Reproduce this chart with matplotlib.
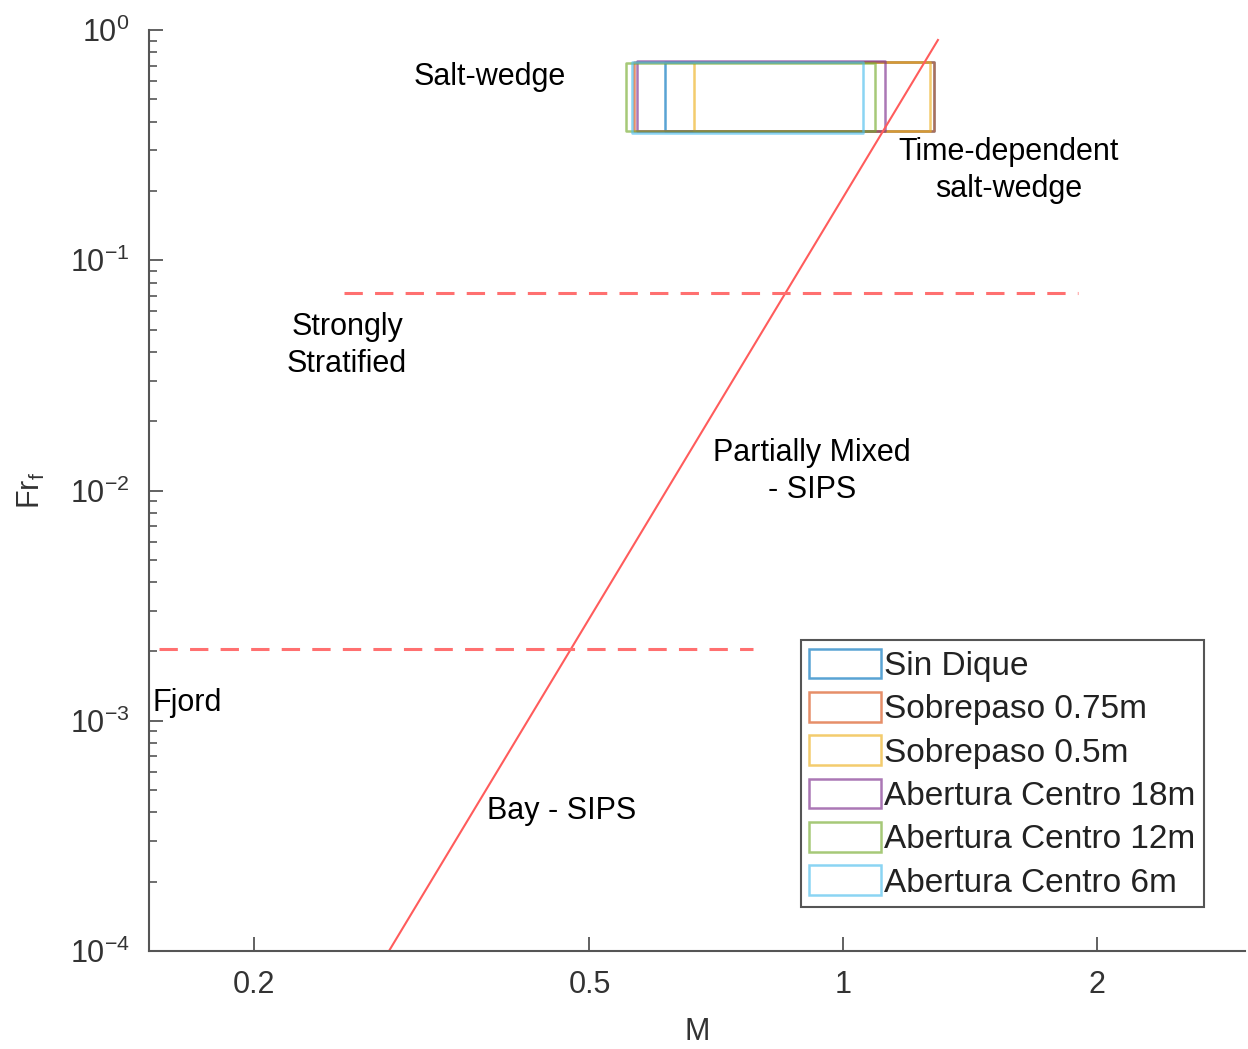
import numpy as np
import matplotlib
matplotlib.use('Agg')
import matplotlib.pyplot as plt
from matplotlib.patches import Rectangle
from matplotlib.ticker import LogLocator, FixedLocator, NullLocator, FixedFormatter

plt.rcParams['font.family'] = ['Liberation Sans', 'DejaVu Sans']
plt.rcParams['mathtext.fontset'] = 'custom'
plt.rcParams['mathtext.rm'] = 'Liberation Sans'
plt.rcParams['mathtext.it'] = 'Liberation Sans:italic'

# scenarios (boxes of M / Fr_f range)
labels = ['Sin Dique', 'Sobrepaso 0.75m', 'Sobrepaso 0.5m',
          'Abertura Centro 18m', 'Abertura Centro 12m', 'Abertura Centro 6m']
colors = ['#0072BD', '#D95319', '#EDB120', '#7E2F8E', '#77AC30', '#4DBEEE']
m_min = [0.615, 0.565, 0.666, 0.570, 0.552, 0.562]
m_max = [1.282, 1.282, 1.268, 1.121, 1.091, 1.056]
fr_min = [0.364, 0.364, 0.364, 0.364, 0.364, 0.356]
fr_max = [0.726, 0.726, 0.726, 0.730, 0.722, 0.726]

# mixing line and regime boundaries
line_m = [0.289, 1.296]
line_fr = [1e-4, 0.905]
upper_m = [0.2557, 1.898]
upper_fr = [0.0719, 0.0719]
lower_m = [0.1543, 0.782]
lower_fr = [0.00205, 0.00205]

fig = plt.figure(figsize=(12.48, 10.49), dpi=100)
ax = fig.add_axes([0.1194, 0.0934, 0.8782, 0.878])

ax.plot(line_m, line_fr, color='#ff5c5c', lw=1.5)
ax.plot(upper_m, upper_fr, color='#ff7070', lw=2.2, ls=(0, (6, 4)))
ax.plot(lower_m, lower_fr, color='#ff7070', lw=2.2, ls=(0, (6, 4)))

for i in range(len(labels)):
    r = Rectangle((m_min[i], fr_min[i]), m_max[i] - m_min[i], fr_max[i] - fr_min[i],
                  facecolor='none', edgecolor=colors[i], lw=1.8, alpha=0.65,
                  label=labels[i], joinstyle='round')
    ax.add_patch(r)

ax.set_xscale('log')
ax.set_yscale('log')
ax.set_xlim(0.15, 3)
ax.set_ylim(1e-4, 1)

ax.xaxis.set_major_locator(FixedLocator([0.2, 0.5, 1, 2]))
ax.xaxis.set_major_formatter(FixedFormatter(['0.2', '0.5', '1', '2']))
ax.xaxis.set_minor_locator(NullLocator())
ax.yaxis.set_major_locator(LogLocator(base=10, numticks=10))
ax.yaxis.set_minor_locator(LogLocator(base=10, subs=np.arange(2, 10), numticks=10))

for s in ['top', 'right']:
    ax.spines[s].set_visible(False)
for s in ['left', 'bottom']:
    ax.spines[s].set_color('#555555')
    ax.spines[s].set_linewidth(1.5)
ax.tick_params(which='major', direction='in', length=10, width=1.3, colors='#555555',
               labelsize=22, labelcolor='#333333', pad=14)
ax.tick_params(which='minor', direction='in', length=6, width=1.2, colors='#555555')

ax.set_xlabel('M', fontsize=22, color='#333333', labelpad=12)
ax.set_ylabel('Fr$_\\mathregular{f}$', fontsize=22, color='#333333', labelpad=16)

fs = 22
ax.text(0.381, 0.625, 'Salt-wedge', fontsize=fs, ha='center', va='center')
ax.text(1.573, 0.246, 'Time-dependent\nsalt-wedge', fontsize=fs, ha='center', va='center',
        linespacing=1.3)
ax.text(0.2577, 0.0427, 'Strongly\nStratified', fontsize=fs, ha='center', va='center',
        linespacing=1.3)
ax.text(0.919, 0.0121, 'Partially Mixed\n- SIPS', fontsize=fs, ha='center', va='center',
        linespacing=1.3)
ax.text(0.1514, 0.00119, 'Fjord', fontsize=fs, ha='left', va='center')
ax.text(0.4633, 0.000406, 'Bay - SIPS', fontsize=fs, ha='center', va='center')

leg = ax.legend(loc='lower right', bbox_to_anchor=(0.9626, 0.0478), fontsize=24,
                handlelength=2.15, handleheight=1.0, handletextpad=0.1,
                labelspacing=0.3, borderpad=0.25, borderaxespad=0, fancybox=False,
                framealpha=1)
leg.get_frame().set_edgecolor('#555555')
leg.get_frame().set_linewidth(1.5)
for t in leg.get_texts():
    t.set_color('#222222')

fig.savefig('out.png', dpi=100)
